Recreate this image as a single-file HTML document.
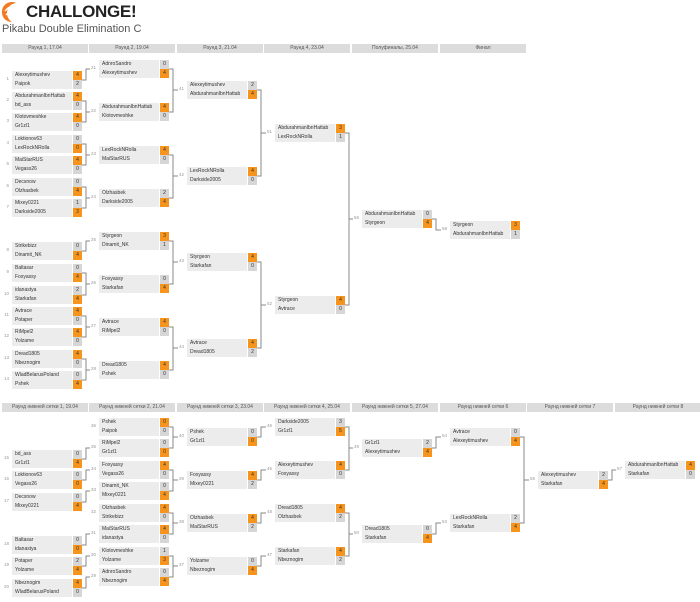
<!DOCTYPE html>
<html><head><meta charset="utf-8"><style>
body{margin:0;width:700px;height:602px;background:#fff;position:relative;overflow:hidden;font-family:"Liberation Sans","Noto Sans CJK SC",sans-serif;}
.h{position:absolute;height:9px;background:#dcdcdc;color:#555;font-size:5px;line-height:9px;text-align:center;width:86px}
.m{position:absolute;width:70px;height:18px}
.r{display:flex;height:9px}
.r span{width:58px;background:#ececec;color:#333;font-size:5px;line-height:9px;padding-left:3px;white-space:nowrap;overflow:hidden}
.r b{width:9px;margin-left:1px;background:#d6d6d6;color:#333;font-weight:normal;font-size:5px;line-height:9px;text-align:center}
.r b.w{background:#f7941d}
.m i{position:absolute;left:-13px;width:10px;top:5px;text-align:right;font-style:normal;font-size:4.5px;color:#999}
svg.c{position:absolute;left:0;top:0}
</style></head><body>
<svg style="position:absolute;left:2px;top:2px" width="20" height="20" viewBox="0 0 20 20"><path d="M10 0C4 0 0 4.5 0 10s4 10 10 10c-3-2-5-5-5-9C5 6 8 2 14 1 13 .3 11.5 0 10 0z" fill="#f47a20"/><path d="M3 9c3-4 8-6 15-5M4 13c3-4 8-6 14-4" stroke="#fff" stroke-width="1.4" fill="none"/></svg>
<div style="position:absolute;left:26px;top:2px;font-size:17px;font-weight:bold;color:#222;letter-spacing:-0.3px">CHALLONGE!</div>
<div style="position:absolute;left:2px;top:23px;font-size:11px;color:#555">Pikabu Double Elimination C</div>

<div class="h" style="left:2px;top:44px">Раунд 1, 17.04</div>
<div class="h" style="left:89px;top:44px">Раунд 2, 19.04</div>
<div class="h" style="left:177px;top:44px">Раунд 3, 21.04</div>
<div class="h" style="left:264px;top:44px">Раунд 4, 23.04</div>
<div class="h" style="left:352px;top:44px">Полуфиналы, 25.04</div>
<div class="h" style="left:440px;top:44px">Финал</div>

<div class="h" style="left:2px;top:403px">Раунд нижней сетки 1, 19.04</div>
<div class="h" style="left:89px;top:403px">Раунд нижней сетки 2, 21.04</div>
<div class="h" style="left:177px;top:403px">Раунд нижней сетки 3, 23.04</div>
<div class="h" style="left:264px;top:403px">Раунд нижней сетки 4, 25.04</div>
<div class="h" style="left:352px;top:403px">Раунд нижней сетки 5, 27.04</div>
<div class="h" style="left:440px;top:403px">Раунд нижней сетки 6</div>
<div class="h" style="left:527px;top:403px">Раунд нижней сетки 7</div>
<div class="h" style="left:615px;top:403px">Раунд нижней сетки 8</div>

<svg class="c" width="700" height="602"><path fill="none" stroke="#888" stroke-width="1" d="
M82 80H86V69H90
M82 101H86V122H82M86 112H90
M82 144H86V165H82M86 155H90
M82 187H86V208H82M86 198H90
M82 251H86V241H90
M82 273H86V295H82M86 284H90
M82 316H86V337H82M86 327H90
M82 359H86V380H82M86 370H90
M169 69H173V112H169M173 90H178
M169 155H173V198H169M173 176H178
M169 241H173V284H169M173 262H178
M169 327H173V370H169M173 348H178
M257 90H261V176H257M261 133H266
M257 262H261V348H257M261 305H266
M345 133H349V305H345M349 219H353
M432 219H436V230H441
M82 459H86V448H90
M82 480H86V470H90
M82 502H86V491H90
M82 545H86V534H90
M82 566H86V556H90
M82 588H86V577H90
M169 427H173V448H169M173 437H178
M169 470H173V491H169M173 480H178
M169 513H173V534H169M173 523H178
M169 556H173V577H169M173 566H178
M257 437H261V427H266
M257 480H261V470H266
M257 523H261V513H266
M257 566H261V556H266
M345 427H349V470H345M349 448H353
M345 513H349V556H345M349 534H353
M432 448H436V437H441
M432 534H436V523H441
M520 437H524V523H520M524 480H529
M608 480H612V470H616"/></svg>

<!-- upper R1 -->
<div class="m" style="left:12px;top:71px"><i>1</i><div class="r"><span>Alexeytimushev</span><b class="w">4</b></div><div class="r"><span>Paipok</span><b>2</b></div></div>
<div class="m" style="left:12px;top:92px"><i>2</i><div class="r"><span>AbdurahmanIbnHattab</span><b class="w">4</b></div><div class="r"><span>bd_ass</span><b>0</b></div></div>
<div class="m" style="left:12px;top:113px"><i>3</i><div class="r"><span>Klotovmeshke</span><b class="w">4</b></div><div class="r"><span>Gr1zl1</span><b>0</b></div></div>
<div class="m" style="left:12px;top:135px"><i>4</i><div class="r"><span>Loktionov63</span><b>0</b></div><div class="r"><span>LexRockNRolla</span><b class="w">0</b></div></div>
<div class="m" style="left:12px;top:156px"><i>5</i><div class="r"><span>MaiStarRUS</span><b class="w">4</b></div><div class="r"><span>Vegass26</span><b>0</b></div></div>
<div class="m" style="left:12px;top:178px"><i>6</i><div class="r"><span>Decsnow</span><b>0</b></div><div class="r"><span>Olzhasbek</span><b class="w">4</b></div></div>
<div class="m" style="left:12px;top:199px"><i>7</i><div class="r"><span>Mixey0221</span><b>1</b></div><div class="r"><span>Darkside2005</span><b class="w">3</b></div></div>
<div class="m" style="left:12px;top:242px"><i>8</i><div class="r"><span>Strikebizz</span><b>0</b></div><div class="r"><span>Dinamit_NK</span><b class="w">4</b></div></div>
<div class="m" style="left:12px;top:264px"><i>9</i><div class="r"><span>Baltasar</span><b>0</b></div><div class="r"><span>Foxyassy</span><b class="w">4</b></div></div>
<div class="m" style="left:12px;top:286px"><i>10</i><div class="r"><span>idanastya</span><b>2</b></div><div class="r"><span>Starkafan</span><b class="w">4</b></div></div>
<div class="m" style="left:12px;top:307px"><i>11</i><div class="r"><span>Avtrace</span><b class="w">4</b></div><div class="r"><span>Potaper</span><b>0</b></div></div>
<div class="m" style="left:12px;top:328px"><i>12</i><div class="r"><span>RiMpel2</span><b class="w">4</b></div><div class="r"><span>Yolzame</span><b>0</b></div></div>
<div class="m" style="left:12px;top:350px"><i>13</i><div class="r"><span>Dread1805</span><b class="w">4</b></div><div class="r"><span>Nbeznogim</span><b>0</b></div></div>
<div class="m" style="left:12px;top:371px"><i>14</i><div class="r"><span>WladBelarusPoland</span><b>0</b></div><div class="r"><span>Pshek</span><b class="w">4</b></div></div>
<!-- upper R2 -->
<div class="m" style="left:99px;top:60px"><i>21</i><div class="r"><span>AdnroSandro</span><b>0</b></div><div class="r"><span>Alexeytimushev</span><b class="w">4</b></div></div>
<div class="m" style="left:99px;top:103px"><i>22</i><div class="r"><span>AbdurahmanIbnHattab</span><b class="w">4</b></div><div class="r"><span>Klotovmeshke</span><b>0</b></div></div>
<div class="m" style="left:99px;top:146px"><i>23</i><div class="r"><span>LexRockNRolla</span><b class="w">4</b></div><div class="r"><span>MaiStarRUS</span><b>0</b></div></div>
<div class="m" style="left:99px;top:189px"><i>24</i><div class="r"><span>Olzhasbek</span><b>2</b></div><div class="r"><span>Darkside2005</span><b class="w">4</b></div></div>
<div class="m" style="left:99px;top:232px"><i>25</i><div class="r"><span>Styrgeon</span><b class="w">3</b></div><div class="r"><span>Dinamit_NK</span><b>1</b></div></div>
<div class="m" style="left:99px;top:275px"><i>26</i><div class="r"><span>Foxyassy</span><b>0</b></div><div class="r"><span>Starkafan</span><b class="w">4</b></div></div>
<div class="m" style="left:99px;top:318px"><i>27</i><div class="r"><span>Avtrace</span><b class="w">4</b></div><div class="r"><span>RiMpel2</span><b>0</b></div></div>
<div class="m" style="left:99px;top:361px"><i>28</i><div class="r"><span>Dread1805</span><b class="w">4</b></div><div class="r"><span>Pshek</span><b>0</b></div></div>
<!-- upper R3 -->
<div class="m" style="left:187px;top:81px"><i>41</i><div class="r"><span>Alexeytimushev</span><b>2</b></div><div class="r"><span>AbdurahmanIbnHattab</span><b class="w">4</b></div></div>
<div class="m" style="left:187px;top:167px"><i>42</i><div class="r"><span>LexRockNRolla</span><b class="w">4</b></div><div class="r"><span>Darkside2005</span><b>0</b></div></div>
<div class="m" style="left:187px;top:253px"><i>43</i><div class="r"><span>Styrgeon</span><b class="w">4</b></div><div class="r"><span>Starkafan</span><b>0</b></div></div>
<div class="m" style="left:187px;top:339px"><i>44</i><div class="r"><span>Avtrace</span><b class="w">4</b></div><div class="r"><span>Dread1805</span><b>2</b></div></div>
<!-- upper R4, SF, F -->
<div class="m" style="left:275px;top:124px"><i>51</i><div class="r"><span>AbdurahmanIbnHattab</span><b class="w">3</b></div><div class="r"><span>LexRockNRolla</span><b>1</b></div></div>
<div class="m" style="left:275px;top:296px"><i>52</i><div class="r"><span>Styrgeon</span><b class="w">4</b></div><div class="r"><span>Avtrace</span><b>0</b></div></div>
<div class="m" style="left:362px;top:210px"><i>56</i><div class="r"><span>AbdurahmanIbnHattab</span><b>0</b></div><div class="r"><span>Styrgeon</span><b class="w">4</b></div></div>
<div class="m" style="left:450px;top:221px"><i>58</i><div class="r"><span>Styrgeon</span><b class="w">3</b></div><div class="r"><span>AbdurahmanIbnHattab</span><b>1</b></div></div>

<!-- lower R1 -->
<div class="m" style="left:12px;top:450px"><i>15</i><div class="r"><span>bd_ass</span><b>0</b></div><div class="r"><span>Gr1zl1</span><b class="w">4</b></div></div>
<div class="m" style="left:12px;top:471px"><i>16</i><div class="r"><span>Loktionov63</span><b>0</b></div><div class="r"><span>Vegass26</span><b class="w">0</b></div></div>
<div class="m" style="left:12px;top:493px"><i>17</i><div class="r"><span>Decsnow</span><b>0</b></div><div class="r"><span>Mixey0221</span><b class="w">4</b></div></div>
<div class="m" style="left:12px;top:536px"><i>18</i><div class="r"><span>Baltasar</span><b>0</b></div><div class="r"><span>idanastya</span><b class="w">0</b></div></div>
<div class="m" style="left:12px;top:557px"><i>19</i><div class="r"><span>Potaper</span><b>2</b></div><div class="r"><span>Yolzame</span><b class="w">4</b></div></div>
<div class="m" style="left:12px;top:579px"><i>20</i><div class="r"><span>Nbeznogim</span><b class="w">4</b></div><div class="r"><span>WladBelarusPoland</span><b>0</b></div></div>
<!-- lower R2 -->
<div class="m" style="left:99px;top:418px"><i>36</i><div class="r"><span>Pshek</span><b class="w">0</b></div><div class="r"><span>Paipok</span><b>0</b></div></div>
<div class="m" style="left:99px;top:439px"><i>35</i><div class="r"><span>RiMpel2</span><b>0</b></div><div class="r"><span>Gr1zl1</span><b class="w">0</b></div></div>
<div class="m" style="left:99px;top:461px"><i>34</i><div class="r"><span>Foxyassy</span><b class="w">4</b></div><div class="r"><span>Vegass26</span><b>0</b></div></div>
<div class="m" style="left:99px;top:482px"><i>33</i><div class="r"><span>Dinamit_NK</span><b>0</b></div><div class="r"><span>Mixey0221</span><b class="w">4</b></div></div>
<div class="m" style="left:99px;top:504px"><i>32</i><div class="r"><span>Olzhasbek</span><b class="w">4</b></div><div class="r"><span>Strikebizz</span><b>0</b></div></div>
<div class="m" style="left:99px;top:525px"><i>31</i><div class="r"><span>MaiStarRUS</span><b class="w">4</b></div><div class="r"><span>idanastya</span><b>0</b></div></div>
<div class="m" style="left:99px;top:547px"><i>30</i><div class="r"><span>Klotovmeshke</span><b>1</b></div><div class="r"><span>Yolzame</span><b class="w">3</b></div></div>
<div class="m" style="left:99px;top:568px"><i>29</i><div class="r"><span>AdnroSandro</span><b>0</b></div><div class="r"><span>Nbeznogim</span><b class="w">4</b></div></div>
<!-- lower R3 -->
<div class="m" style="left:187px;top:428px"><i>40</i><div class="r"><span>Pshek</span><b>0</b></div><div class="r"><span>Gr1zl1</span><b class="w">0</b></div></div>
<div class="m" style="left:187px;top:471px"><i>39</i><div class="r"><span>Foxyassy</span><b class="w">4</b></div><div class="r"><span>Mixey0221</span><b>2</b></div></div>
<div class="m" style="left:187px;top:514px"><i>38</i><div class="r"><span>Olzhasbek</span><b class="w">4</b></div><div class="r"><span>MaiStarRUS</span><b>2</b></div></div>
<div class="m" style="left:187px;top:557px"><i>37</i><div class="r"><span>Yolzame</span><b>0</b></div><div class="r"><span>Nbeznogim</span><b class="w">4</b></div></div>
<!-- lower R4 -->
<div class="m" style="left:275px;top:418px"><i>46</i><div class="r"><span>Darkside2005</span><b>3</b></div><div class="r"><span>Gr1zl1</span><b class="w">5</b></div></div>
<div class="m" style="left:275px;top:461px"><i>45</i><div class="r"><span>Alexeytimushev</span><b class="w">4</b></div><div class="r"><span>Foxyassy</span><b>0</b></div></div>
<div class="m" style="left:275px;top:504px"><i>48</i><div class="r"><span>Dread1805</span><b class="w">4</b></div><div class="r"><span>Olzhasbek</span><b>2</b></div></div>
<div class="m" style="left:275px;top:547px"><i>47</i><div class="r"><span>Starkafan</span><b class="w">4</b></div><div class="r"><span>Nbeznogim</span><b>2</b></div></div>
<!-- lower R5-R8 -->
<div class="m" style="left:362px;top:439px"><i>49</i><div class="r"><span>Gr1zl1</span><b>2</b></div><div class="r"><span>Alexeytimushev</span><b class="w">4</b></div></div>
<div class="m" style="left:362px;top:525px"><i>50</i><div class="r"><span>Dread1805</span><b>0</b></div><div class="r"><span>Starkafan</span><b class="w">4</b></div></div>
<div class="m" style="left:450px;top:428px"><i>54</i><div class="r"><span>Avtrace</span><b>0</b></div><div class="r"><span>Alexeytimushev</span><b class="w">4</b></div></div>
<div class="m" style="left:450px;top:514px"><i>53</i><div class="r"><span>LexRockNRolla</span><b>2</b></div><div class="r"><span>Starkafan</span><b class="w">4</b></div></div>
<div class="m" style="left:538px;top:471px"><i>55</i><div class="r"><span>Alexeytimushev</span><b>2</b></div><div class="r"><span>Starkafan</span><b class="w">4</b></div></div>
<div class="m" style="left:625px;top:461px"><i>57</i><div class="r"><span>AbdurahmanIbnHattab</span><b class="w">4</b></div><div class="r"><span>Starkafan</span><b>0</b></div></div>
</body></html>
